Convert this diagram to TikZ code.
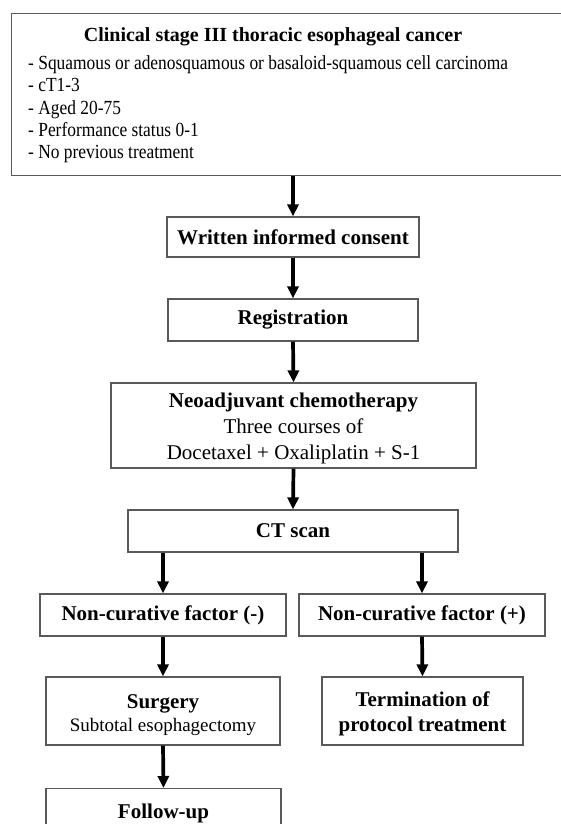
\documentclass[tikz,border=0pt]{standalone}
\usepackage{fontspec}
\setmainfont{Liberation Serif}
\newfontfamily\condfont{Liberation Serif}[FakeStretch=0.87]
\usetikzlibrary{arrows.meta}
\begin{document}
\begin{tikzpicture}[x=1pt,y=-1pt,
  box/.style={draw=black!65, line width=1.2pt, fill=white, inner sep=0pt, align=center},
  lbl/.style={font=\fontsize{21}{25.5}\selectfont\bfseries},
  txt/.style={inner sep=0pt, align=center, font=\fontsize{21}{25.5}\selectfont\bfseries},
  arr/.style={line width=3.7pt, -{Triangle[width=11pt,length=12pt]}},
  item/.style={anchor=base west, inner sep=0pt, font=\condfont\fontsize{20}{22}\selectfont}]
\clip (0,0) rectangle (561,824);
\fill[white] (0,0) rectangle (561,824);
% top box
\node[box, anchor=north west, minimum width=600pt, minimum height=162pt] (top) at (11,13) {};
\node[anchor=base, inner sep=0pt, font=\fontsize{20}{22}\selectfont\bfseries] (title) at (273,42) {Clinical stage III thoracic esophageal cancer};
\node[item] (i1) at (28,70) {- Squamous or adenosquamous or basaloid-squamous cell carcinoma};
\node[item] (i2) at (28,92) {- cT1-3};
\node[item] (i3) at (28,114) {- Aged 20-75};
\node[item] (i4) at (28,136) {- Performance status 0-1};
\node[item] (i5) at (28,158) {- No previous treatment};
% flow boxes
\node[box, lbl, minimum width=252pt, minimum height=40pt] (consent) at (293,237) {Written informed consent};
\node[box, lbl, minimum width=250pt, minimum height=42pt] (reg) at (293,320) {Registration};
\node[box, minimum width=365pt, minimum height=85pt] (neo) at (293.5,425.5) {};
\node[txt, font=\fontsize{21}{26}\selectfont\bfseries] (neotxt) at (293.5,428.5)
  {Neoadjuvant chemotherapy\\\mdseries Three courses of\\\mdseries Docetaxel + Oxaliplatin + S-1};
\node[box, lbl, minimum width=330pt, minimum height=42pt] (ct) at (293,531) {CT scan};
\node[box, lbl, minimum width=246pt, minimum height=42pt] (neg) at (163,615) {Non-curative factor (-)};
\node[box, lbl, minimum width=246pt, minimum height=42pt] (pos) at (422,615) {Non-curative factor (+)};
\node[box, minimum width=234pt, minimum height=68pt] (surg) at (163,711) {};
\node[txt] (surgtxt) at (163,715)
  {Surgery\\[-2pt]\fontsize{19}{22}\selectfont\mdseries Subtotal esophagectomy};
\node[box, minimum width=201pt, minimum height=68pt] (term) at (422.5,711) {};
\node[txt] (termtxt) at (422.5,714) {Termination of\\protocol treatment};
\node[box, anchor=north, minimum width=235pt, minimum height=70pt] (fol) at (163.5,788) {};
\node[txt] (foltext) at (163.5,813) {Follow-up};
% arrows
\draw[arr] (consent.north |- top.south) -- (consent.north);
\draw[arr] (consent.south) -- (reg.north);
\draw[arr] (reg.south) -- (neo.north);
\draw[arr] (neo.south) -- (ct.north);
\draw[arr] (neg.north |- ct.south) -- (neg.north);
\draw[arr] (pos.north |- ct.south) -- (pos.north);
\draw[arr] (neg.south) -- (surg.north);
\draw[arr] (pos.south) -- (term.north);
\draw[arr] (surg.south) -- (fol.north);
\end{tikzpicture}
\end{document}
